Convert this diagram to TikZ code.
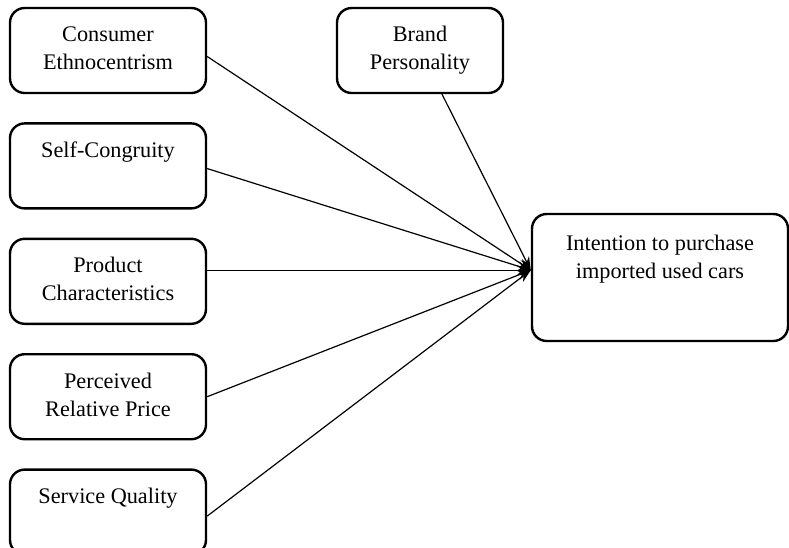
\documentclass[tikz,border=0pt]{standalone}
\usepackage{fontspec}
\setmainfont{Liberation Serif}
\usetikzlibrary{arrows.meta, positioning}

\begin{document}
\begin{tikzpicture}[
    x=0.75pt, y=-0.75pt,
    factor/.style={draw, line width=1.8pt, rounded corners=11pt,
        minimum width=147pt, minimum height=63.75pt, inner sep=0pt},
    factortext/.style={anchor=north, align=center, inner sep=0pt,
        yshift=-14.5pt, font=\fontsize{16.7}{21}\selectfont},
    link/.style={-{Stealth[length=10pt,width=7pt]}, line width=0.9pt},
    node distance=21pt]
    \useasboundingbox (0,0) rectangle (789,547);

    % antecedents
    \node[factor, label={[factortext]north:Consumer\\Ethnocentrism}] (ce) at (108,50.5) {};
    \node[factor, below=of ce, label={[factortext]north:Self-Congruity}] (sc) {};
    \node[factor, below=of sc, label={[factortext]north:Product\\Characteristics}] (pc) {};
    \node[factor, below=of pc, label={[factortext]north:Perceived\\Relative Price}] (prp) {};
    \node[factor, below=of prp, label={[factortext]north:Service Quality}] (sq) {};
    \node[factor, minimum width=124.5pt, label={[factortext]north:Brand\\Personality}] (bp) at (420,50.5) {};

    % outcome
    \node[factor, minimum width=192pt, minimum height=95.25pt,
        label={[factortext, yshift=-2pt]north:Intention to purchase\\imported used cars}] (ipc) at (660,277.5) {};
    \coordinate (in) at ([yshift=5.5pt]ipc.west);

    \draw[link] ([yshift=-4.5pt]ce.east) -- (in);
    \draw[link] ([yshift=-2pt]sc.east) -- (in);
    \draw[link] (pc.east |- in) -- (in);
    \draw[link] (prp.east) -- (in);
    \draw[link] ([yshift=-3pt]sq.east) -- (in);
    \draw[link] (bp) -- (in);
\end{tikzpicture}
\end{document}
